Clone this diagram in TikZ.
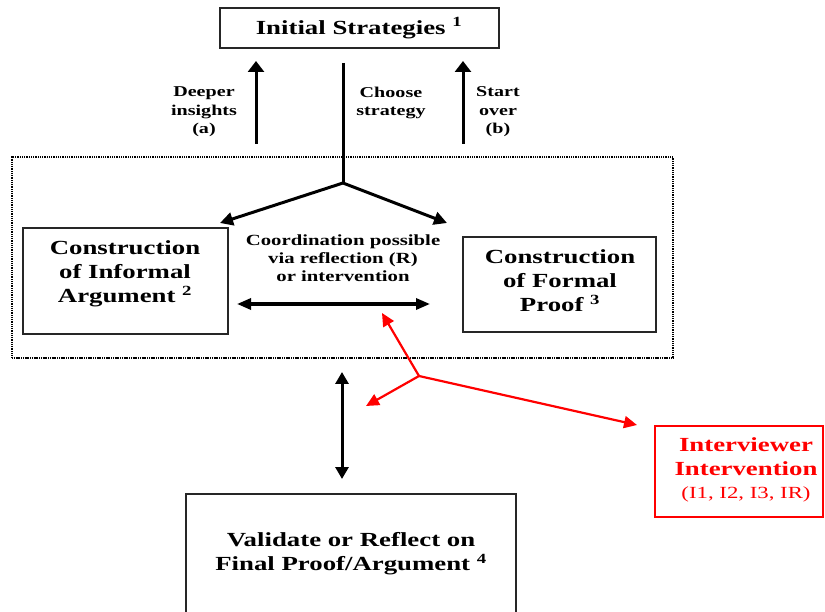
\documentclass[tikz,border=0pt]{standalone}
\usepackage{fontspec}
\setmainfont{Liberation Serif}[FakeStretch=1.34]
\usetikzlibrary{arrows.meta}
\definecolor{ired}{RGB}{255,0,0}
\begin{document}
\begin{tikzpicture}[x=1pt,y=-1pt,
  box/.style={draw=black!85,line width=1.6pt,inner sep=0pt},
  bigtext/.style={align=center,inner sep=0pt,font=\fontsize{20}{24}\selectfont\bfseries},
  smalltext/.style={align=center,inner sep=0pt,font=\fontsize{15}{18.5}\selectfont\bfseries},
  vtip/.style={line width=3pt,#1{Triangle[length=11pt,width=16pt]}},
  dtip/.style={line width=3pt,-{Triangle[length=13pt,width=13pt]}},
  redflow/.style={draw=ired,line width=2.2pt,-{Triangle[length=13pt,width=12pt]}},
  group/.style={draw,line width=2pt,dash pattern=on 1.1pt off 0.7pt,inner sep=0pt}]
\useasboundingbox (0,0) rectangle (825,612);

% top box
\node[box,minimum width=279pt,minimum height=40pt] (init) at (359.5,28) {};
\node[bigtext] (inittext) at (359,28) {Initial Strategies \textsuperscript{1}};

% dotted frame around the two construction phases
\node[group,minimum width=661pt,minimum height=201pt] (frame) at (342.5,257.5) {};

% construction boxes
\node[box,minimum width=205pt,minimum height=106pt] (inf) at (125.5,281) {};
\node[bigtext] (inftext) at (125,274) {Construction\\of Informal\\Argument \textsuperscript{2}};
\node[box,minimum width=193pt,minimum height=95pt] (form) at (559.5,284.5) {};
\node[bigtext] (formtext) at (560,281) {Construction\\of Formal\\Proof \textsuperscript{3}};

\node[align=center,inner sep=0pt,font=\fontsize{15.5}{18}\selectfont\bfseries] (coord) at (343,258)
  {Coordination possible\\via reflection (R)\\or intervention};

% final box, running past the lower edge
\node[box,minimum width=330pt,minimum height=150pt,anchor=north] (final) at (351,493) {};
\node[bigtext] (finaltext) at (351,554) {Validate or Reflect on\\Final Proof/Argument \textsuperscript{4}};

% interviewer box
\node[draw=ired,line width=1.2pt,minimum width=168pt,minimum height=91pt,inner sep=0pt] (intv) at (739,471.5) {};
\node[align=center,inner sep=0pt,text=ired,font=\fontsize{20}{23.5}\selectfont\bfseries] (intvtext) at (746,470)
  {Interviewer\\Intervention\\\fontsize{17}{20}\selectfont\mdseries (I1, I2, I3, IR)};

% side labels
\node[smalltext] (la) at (204,112) {Deeper\\insights\\(a)};
\node[smalltext] (lc) at (391,103) {Choose\\strategy};
\node[smalltext] (lb) at (498,112) {Start\\over\\(b)};

% connector end points
\coordinate (a0) at (256,144);
\coordinate (a1) at (256,61);
\coordinate (b0) at (463,144);
\coordinate (b1) at (463,61);
\coordinate (c0) at (343,63);
\coordinate (cj) at (343,183);
\coordinate (cl) at (220,223);
\coordinate (cr) at (447,223);
\coordinate (h0) at (237,304);
\coordinate (h1) at (430,304);
\coordinate (v0) at (342,372);
\coordinate (v1) at (342,479);
\coordinate (rj) at (419,376);
\coordinate (r1) at (382,313);
\coordinate (r2) at (366,406);
\coordinate (r3) at (637,425);

% black connectors
\draw[vtip=-] (a0) -- (a1);
\draw[vtip=-] (b0) -- (b1);
\draw[line width=3pt] (c0) -- (cj);
\draw[dtip,line join=miter] (cj) -- (cl);
\draw[dtip,line join=miter] (cj) -- (cr);
\draw[line width=3.2pt,{Triangle[length=14pt,width=11pt]}-{Triangle[length=14pt,width=11pt]}] (h0) -- (h1);
\draw[line width=3pt,{Triangle[length=12pt,width=13pt]}-{Triangle[length=12pt,width=13pt]}] (v0) -- (v1);

% red intervention connectors
\draw[redflow] (rj) -- (r1);
\draw[redflow] (rj) -- (r2);
\draw[redflow] (rj) -- (r3);
\end{tikzpicture}
\end{document}
